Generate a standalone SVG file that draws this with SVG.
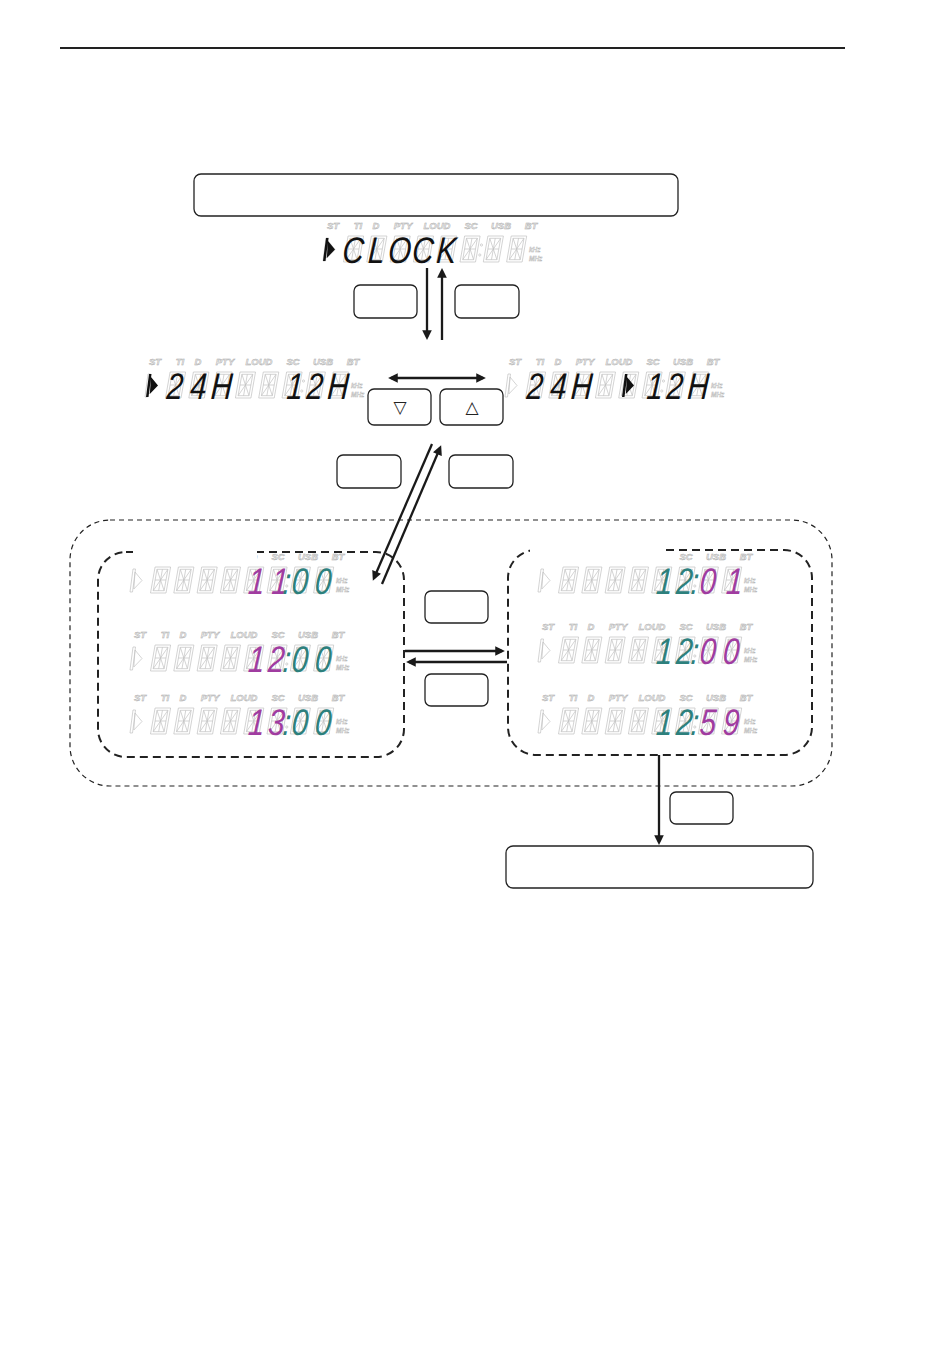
<svg xmlns="http://www.w3.org/2000/svg" width="950" height="1353" viewBox="0 0 950 1353">
<style>
.box{fill:#fff;stroke:#222;stroke-width:1.3}
.conn{stroke:#1a1a1a;stroke-width:2.3;fill:none}
.lbl{font-family:"Liberation Sans",Arial,sans-serif;font-size:9.5px;font-weight:bold;font-style:italic;fill:#ececec;stroke:#a9a9a9;stroke-width:0.45;text-anchor:middle}
.khz{font-family:"Liberation Sans",Arial,sans-serif;font-size:6.5px;font-weight:bold;font-style:italic;fill:#ececec;stroke:#b0b0b0;stroke-width:0.35}
.ghost{fill:none;stroke:#c2c2c2;stroke-width:0.7}
.seg{font-family:"Liberation Sans",Arial,sans-serif;font-size:37px;font-style:italic;text-anchor:middle}
.blk{fill:#111}
.mag{fill:#a03ca0}
.teal{fill:#2d807c}
.dash-in{fill:none;stroke:#222;stroke-width:2;stroke-dasharray:8 5}
.dash-out{fill:none;stroke:#222;stroke-width:1.2;stroke-dasharray:5 4}
.tri{font-family:"DejaVu Sans",sans-serif;font-size:17px;fill:#222;text-anchor:middle}
</style>
<defs>
<marker id="ah" viewBox="0 0 10 10" refX="7" refY="5" markerWidth="4.6" markerHeight="4.2" orient="auto-start-reverse" markerUnits="strokeWidth">
<path d="M0,0 L10,5 L0,10 Z" fill="#1a1a1a"/>
</marker>
<g id="cell" class="ghost"><g transform="translate(4.6,0) skewX(-10)"><rect x="0" y="0" width="15.5" height="26"/><rect x="2.3" y="2.3" width="10.9" height="21.4"/><path d="M2.3,13H13.2M7.75,2.3V23.7M2.3,2.3L7.75,13L13.2,2.3M2.3,23.7L7.75,13L13.2,23.7"/></g></g>
<path id="ind" d="M0,25 L3,2 L5.5,2 L2.5,25 Z M5,5 L12,13.5 L3.8,22 Z"/>
<g id="disp">
<text class="lbl" x="0" y="-7">ST</text>
<text class="lbl" x="25" y="-7">TI</text>
<text class="lbl" x="43" y="-7">D</text>
<text class="lbl" x="70" y="-7">PTY</text>
<text class="lbl" x="104" y="-7">LOUD</text>
<text class="lbl" x="138" y="-7">SC</text>
<text class="lbl" x="168" y="-7">USB</text>
<text class="lbl" x="198" y="-7">BT</text>
<use href="#ind" x="-10" class="ghost"/>
<use href="#cell" x="10.5"/>
<use href="#cell" x="33.8"/>
<use href="#cell" x="57.1"/>
<use href="#cell" x="80.4"/>
<use href="#cell" x="103.7"/>
<use href="#cell" x="127"/>
<use href="#cell" x="150.3"/>
<use href="#cell" x="173.6"/>
<circle class="ghost" cx="148.5" cy="9" r="1.1"/>
<circle class="ghost" cx="146.8" cy="19" r="1.1"/>
<text class="khz" x="196" y="16">kHz</text>
<text class="khz" x="196" y="24.5">MHz</text>
</g>
</defs>

<rect width="950" height="1353" fill="#fff"/>
<line id="top-rule" x1="60" y1="48" x2="845" y2="48" stroke="#222" stroke-width="2"/>

<g id="top-box"><rect class="box" x="194" y="174" width="484" height="42" rx="7"/></g>

<g id="disp-clock" transform="translate(333,236)">
<use href="#disp"/>
<use href="#ind" x="-10" fill="#111"/>
<text class="seg blk" transform="skewX(-4) scale(0.8,1)" y="26.5" x="26.5 55.6 84.75 113.9 143">CLOCK</text>
</g>

<g id="btn-a"><rect class="box" x="354" y="285" width="63" height="33" rx="6"/></g>
<g id="btn-b"><rect class="box" x="455" y="285" width="64" height="33" rx="6"/></g>

<g id="disp-24h" transform="translate(155,372)">
<use href="#disp"/>
<use href="#ind" x="-9" fill="#111"/>
<text class="seg blk" transform="skewX(-4) scale(0.8,1)" y="26.5" x="26.5 55.6 84.75">24H</text>
<text class="seg blk" transform="skewX(-4) scale(0.8,1)" y="26.5" x="176.25 201.25 230.4">12H</text>
</g>

<g id="disp-12h" transform="translate(515,372)">
<use href="#disp"/>
<use href="#ind" x="107" fill="#111"/>
<text class="seg blk" transform="skewX(-4) scale(0.8,1)" y="26.5" x="26.5 55.6 84.75">24H</text>
<text class="seg blk" transform="skewX(-4) scale(0.8,1)" y="26.5" x="176.25 201.25 230.4">12H</text>
</g>

<g id="btn-down"><rect class="box" x="368" y="389" width="63" height="36" rx="6"/><text class="tri" x="400" y="413">▽</text></g>
<g id="btn-up"><rect class="box" x="440" y="389" width="63" height="36" rx="6"/><text class="tri" x="472" y="413">△</text></g>

<g id="btn-c"><rect class="box" x="337" y="455" width="64" height="33" rx="6"/></g>
<g id="btn-d"><rect class="box" x="449" y="455" width="64" height="33" rx="6"/></g>

<g id="outer-group"><rect class="dash-out" x="70" y="520" width="762" height="266" rx="40"/></g>

<g id="hour-box">
<rect class="dash-in" x="98" y="552" width="306" height="205" rx="28"/>
<g transform="translate(140,567)">
<use href="#disp"/>
<text class="seg" transform="skewX(-4) scale(0.8,1)" y="26.5"><tspan class="mag" x="147.1 176.25">11</tspan><tspan class="teal" x="185">:</tspan><tspan class="teal" x="201.25 230.4">00</tspan></text>
</g>
<g transform="translate(140,645)">
<use href="#disp"/>
<text class="seg" transform="skewX(-4) scale(0.8,1)" y="26.5"><tspan class="mag" x="147.1 172.1">12</tspan><tspan class="teal" x="185">:</tspan><tspan class="teal" x="201.25 230.4">00</tspan></text>
</g>
<g transform="translate(140,708)">
<use href="#disp"/>
<text class="seg" transform="skewX(-4) scale(0.8,1)" y="26.5"><tspan class="mag" x="147.1 172.1">13</tspan><tspan class="teal" x="185">:</tspan><tspan class="teal" x="201.25 230.4">00</tspan></text>
</g>
<rect x="133" y="542" width="124" height="20" fill="#fff"/>
</g>

<g id="minute-box">
<rect class="dash-in" x="508" y="550" width="304" height="205" rx="28"/>
<g transform="translate(548,567)">
<use href="#disp"/>
<text class="seg" transform="skewX(-4) scale(0.8,1)" y="26.5"><tspan class="teal" x="147.1 172.1">12</tspan><tspan class="teal" x="185">:</tspan><tspan class="mag" x="201.25 234.5">01</tspan></text>
</g>
<g transform="translate(548,637)">
<use href="#disp"/>
<text class="seg" transform="skewX(-4) scale(0.8,1)" y="26.5"><tspan class="teal" x="147.1 172.1">12</tspan><tspan class="teal" x="185">:</tspan><tspan class="mag" x="201.25 230.4">00</tspan></text>
</g>
<g transform="translate(548,708)">
<use href="#disp"/>
<text class="seg" transform="skewX(-4) scale(0.8,1)" y="26.5"><tspan class="teal" x="147.1 172.1">12</tspan><tspan class="teal" x="185">:</tspan><tspan class="mag" x="201.25 230.4">59</tspan></text>
</g>
<rect x="530" y="540" width="136" height="22" fill="#fff"/>
</g>

<g id="btn-e"><rect class="box" x="425" y="591" width="63" height="32" rx="6"/></g>
<g id="btn-f"><rect class="box" x="425" y="674" width="63" height="32" rx="6"/></g>
<g id="btn-g"><rect class="box" x="670" y="792" width="63" height="32" rx="6"/></g>

<g id="bottom-box"><rect class="box" x="506" y="846" width="307" height="42" rx="7"/></g>

<g id="connectors" class="conn">
<path d="M427,268 V337" marker-end="url(#ah)"/>
<path d="M442,340 V271" marker-end="url(#ah)"/>
<path d="M391,378 H483" marker-start="url(#ah)" marker-end="url(#ah)"/>
<path d="M432,444 L374,578" marker-end="url(#ah)"/>
<path d="M382,584 L440,448" marker-end="url(#ah)"/>
<path d="M405,651 H502" marker-end="url(#ah)"/>
<path d="M507,662 H409" marker-end="url(#ah)"/>
<path d="M659,755 V842" marker-end="url(#ah)"/>
</g>
</svg>
